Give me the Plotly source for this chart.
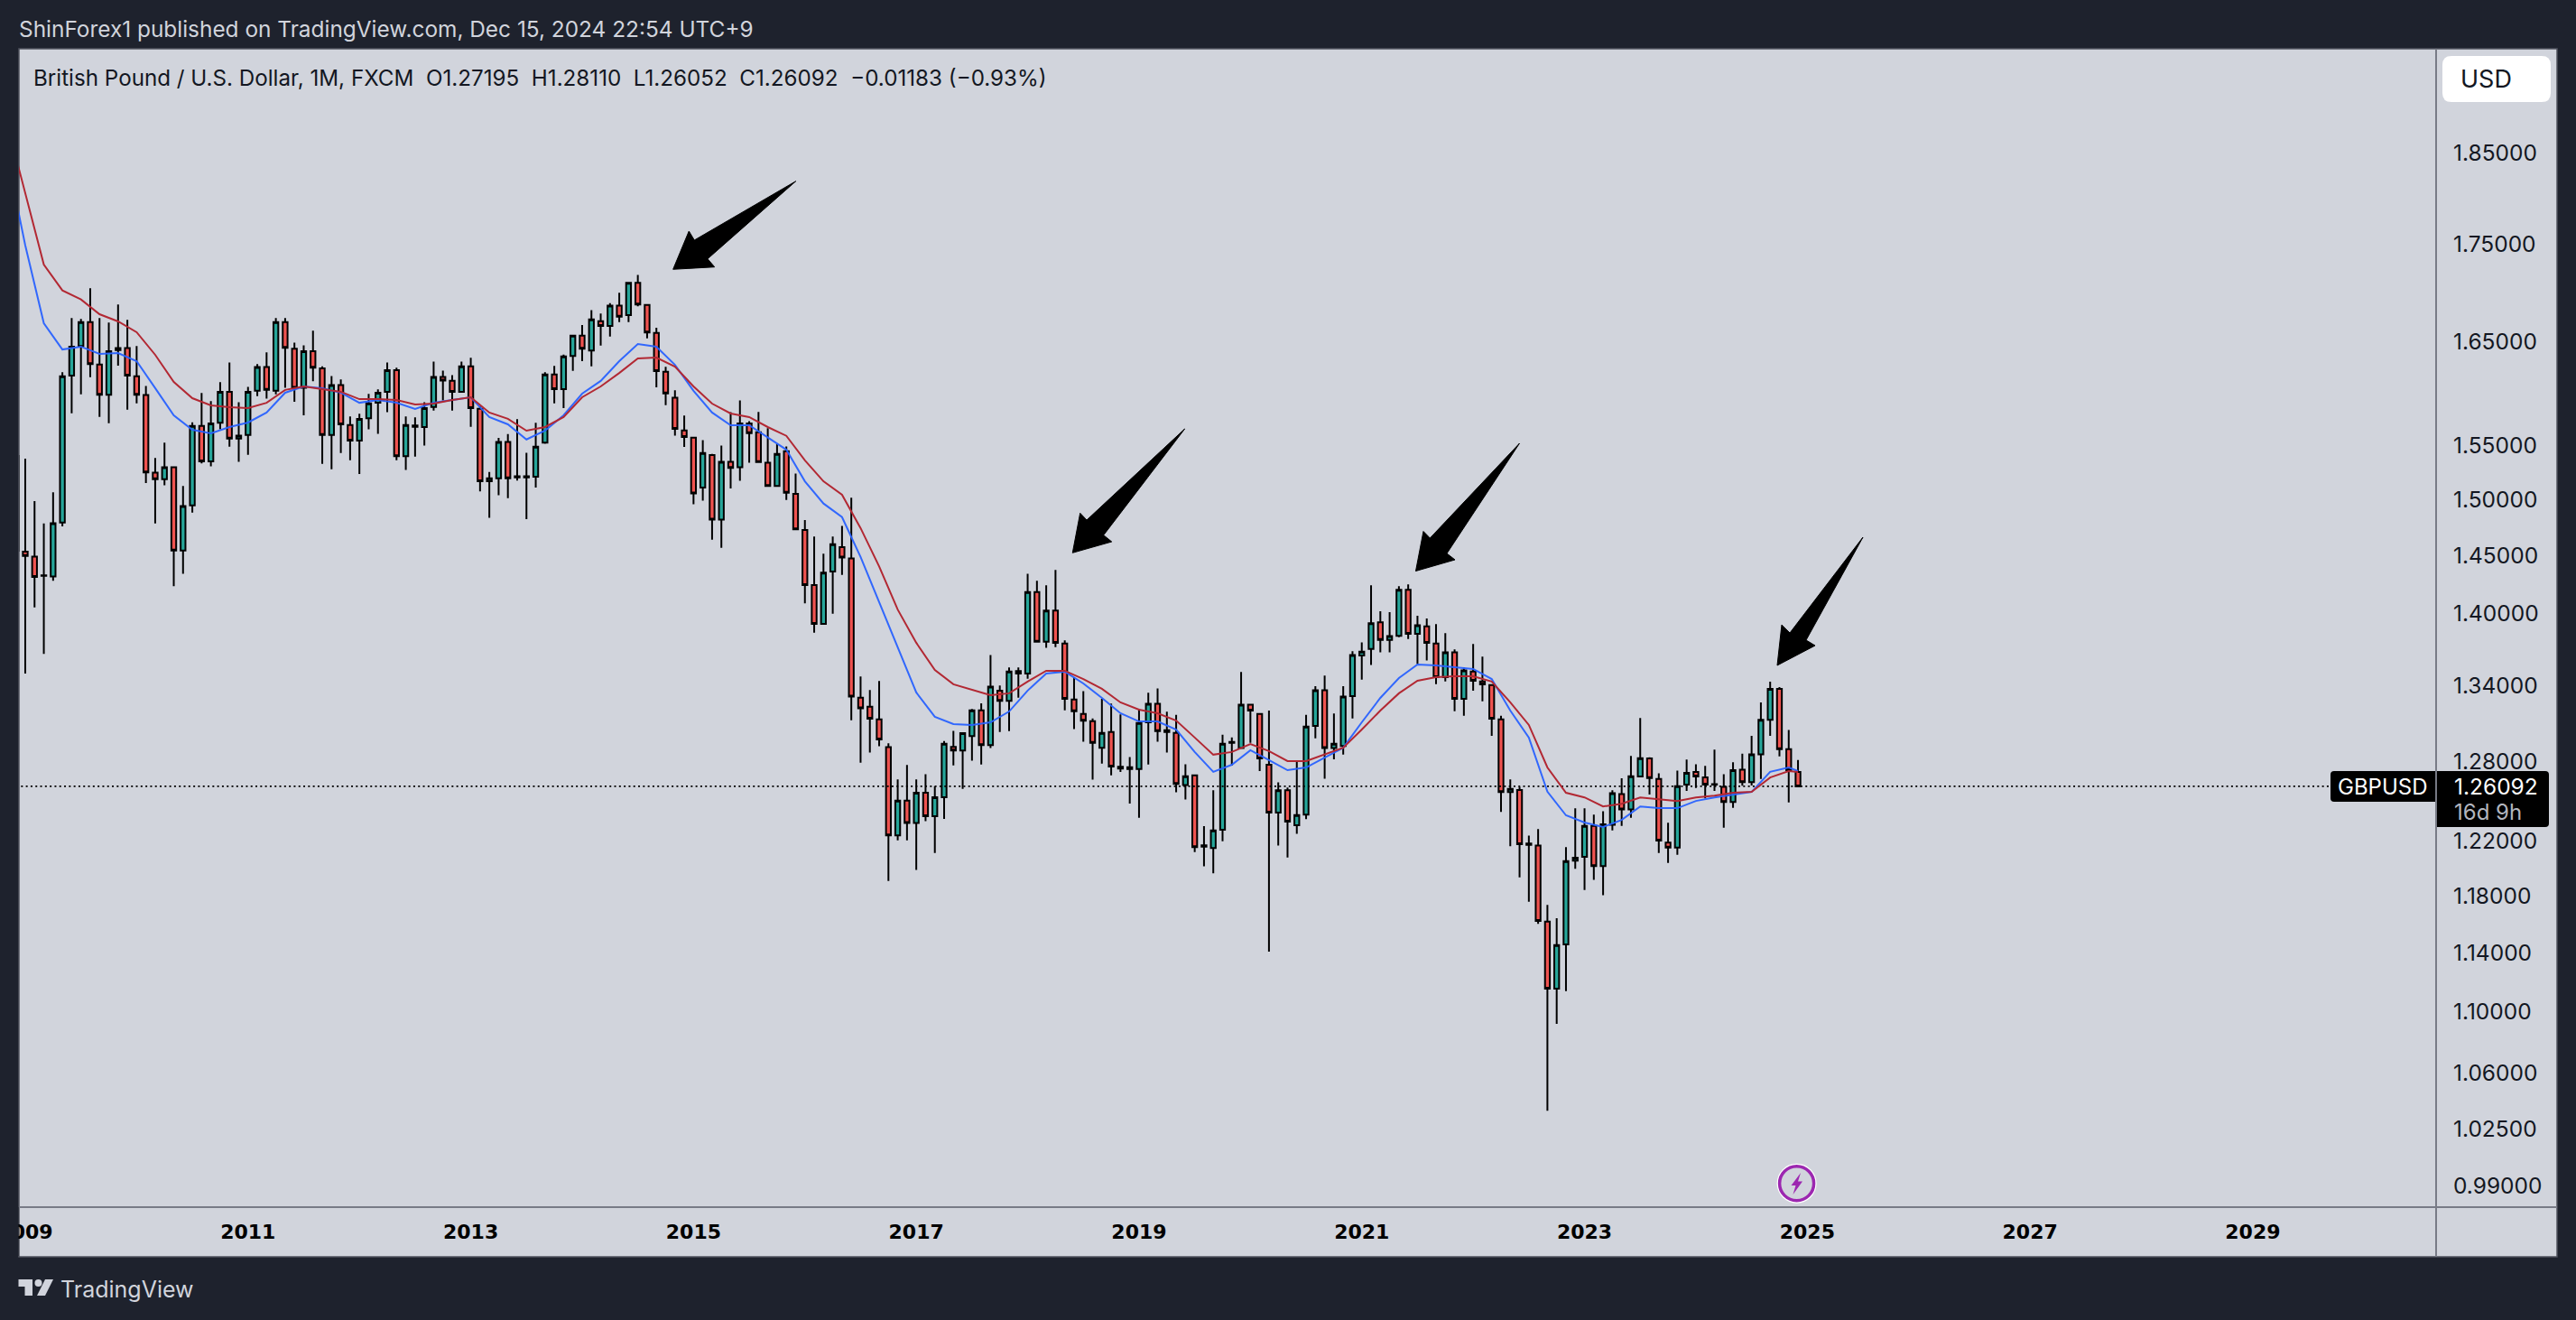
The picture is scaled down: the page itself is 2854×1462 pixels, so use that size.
import plotly.graph_objects as go

# ---------- data (GBP/USD monthly, first bar index -1 = Dec 2008) ----------
first_bar = -1
opens = [1.5398,1.4533,1.4488,1.4321,1.4316,1.4790,1.6165,1.6457,1.6698,1.6274,1.5979,1.6417,1.6436,1.6158,1.5976,1.5243,1.5183,1.5293,1.4542,1.4945,
1.5681,1.5349,1.5710,1.6008,1.5561,1.5595,1.6019,1.6249,1.6019,1.6698,1.6431,1.6046,1.6406,1.6236,1.5595,1.6074,1.5690,1.5542,1.5754,1.5902,
1.6008,1.6218,1.5396,1.5673,1.5671,1.5862,1.6153,1.6114,1.6008,1.6257,1.5845,1.5164,1.5191,1.5530,1.5200,1.5200,1.5207,1.5524,1.6177,1.6034,
1.6358,1.6561,1.6412,1.6707,1.6659,1.6864,1.6768,1.7098,1.6872,1.6588,1.6204,1.5950,1.5638,1.5570,1.5107,1.5406,1.4817,1.5344,1.5293,1.5704,
1.5620,1.5335,1.5121,1.5443,1.5049,1.4725,1.4241,1.3911,1.4359,1.4573,1.4473,1.3304,1.3232,1.3131,1.2911,1.2241,1.2501,1.2332,1.2560,1.2383,
1.2526,1.2914,1.2886,1.2999,1.3202,1.2928,1.3361,1.3279,1.3500,1.3500,1.4182,1.3761,1.4023,1.3747,1.3289,1.3174,1.3116,1.2907,1.3030,1.2745,
1.2742,1.2742,1.3107,1.3254,1.3030,1.3023,1.2619,1.2693,1.2158,1.2147,1.2283,1.2945,1.2904,1.3247,1.3174,1.2775,1.2410,1.2580,1.2316,1.2395,
1.3078,1.3364,1.2904,1.2921,1.3316,1.3647,1.3701,1.3924,1.3776,1.3811,1.4201,1.3828,1.3891,1.3747,1.3470,1.3673,1.3294,1.3517,1.3435,1.3406,
1.3131,1.2565,1.2582,1.2170,1.2165,1.1619,1.1157,1.1459,1.2054,1.2083,1.2311,1.2016,1.2320,1.2550,1.2435,1.2685,1.2824,1.2665,1.2188,1.2150,
1.2622,1.2720,1.2678,1.2622,1.2605,1.2490,1.2737,1.2641,1.2856,1.3127,1.3375,1.2896,1.27195]
closes = [1.4540,1.4494,1.4311,1.4325,1.4785,1.6158,1.6451,1.6698,1.6278,1.5979,1.6406,1.6437,1.6165,1.5979,1.5246,1.5183,1.5293,1.4542,1.4939,1.5681,
1.5349,1.5704,1.6008,1.5561,1.5589,1.6008,1.6249,1.6026,1.6698,1.6440,1.6046,1.6406,1.6242,1.5595,1.6074,1.5695,1.5542,1.5748,1.5896,1.5999,
1.6218,1.5396,1.5690,1.5685,1.5851,1.6153,1.6118,1.6008,1.6257,1.5851,1.5164,1.5191,1.5530,1.5191,1.5210,1.5210,1.5486,1.6177,1.6034,1.6354,
1.6561,1.6431,1.6724,1.6659,1.6864,1.6752,1.7098,1.6875,1.6592,1.6209,1.5993,1.5652,1.5577,1.5054,1.5425,1.4817,1.5344,1.5288,1.5704,1.5612,
1.5341,1.5121,1.5417,1.5060,1.4731,1.4241,1.3911,1.4349,1.4598,1.4480,1.3312,1.3219,1.3136,1.2972,1.2241,1.2501,1.2332,1.2560,1.2383,1.2526,
1.2939,1.2886,1.3021,1.3202,1.2928,1.3393,1.3279,1.3517,1.3520,1.4182,1.3761,1.4023,1.3753,1.3294,1.3196,1.3120,1.2945,1.3023,1.2761,1.2760,
1.2756,1.3102,1.3254,1.3037,1.3044,1.2628,1.2686,1.2154,1.2168,1.2278,1.2939,1.2953,1.3247,1.3201,1.2824,1.2410,1.2580,1.2343,1.2392,1.3073,
1.3364,1.2904,1.2939,1.3312,1.3651,1.3680,1.3916,1.3776,1.3808,1.4201,1.3828,1.3899,1.3753,1.3470,1.3673,1.3294,1.3525,1.3441,1.3412,1.3136,
1.2565,1.2590,1.2176,1.2180,1.1624,1.1157,1.1455,1.2052,1.2076,1.2311,1.2016,1.2322,1.2557,1.2435,1.2686,1.2826,1.2673,1.2203,1.2150,1.2610,
1.2712,1.2685,1.2622,1.2626,1.2490,1.2734,1.2641,1.2856,1.3127,1.3375,1.2896,1.2733,1.26092]
highs = [1.5700,1.5374,1.4983,1.4782,1.5064,1.6198,1.6738,1.6729,1.7043,1.6738,1.6692,1.6875,1.6720,1.6457,1.6064,1.5379,1.5524,1.5300,1.5121,1.5716,
1.5996,1.5917,1.6102,1.6295,1.5908,1.6055,1.6278,1.6394,1.6738,1.6738,1.6492,1.6465,1.6611,1.6257,1.6161,1.6127,1.5771,1.5797,1.5988,1.6032,
1.6295,1.6242,1.5771,1.5763,1.5908,1.6304,1.6215,1.6170,1.6304,1.6340,1.5868,1.5251,1.5567,1.5603,1.5745,1.5429,1.5710,1.6198,1.6260,1.6373,
1.6570,1.6667,1.6818,1.6783,1.6890,1.6996,1.7108,1.7181,1.6881,1.6640,1.6251,1.6023,1.5780,1.5575,1.5547,1.5417,1.5496,1.5811,1.5925,1.5725,
1.5814,1.5660,1.5510,1.5488,1.5236,1.4812,1.4665,1.4514,1.4665,1.4761,1.5015,1.3475,1.3366,1.3438,1.2941,1.2663,1.2773,1.2663,1.2702,1.2610,
1.2960,1.3040,1.3023,1.3214,1.3258,1.3652,1.3403,1.3550,1.3550,1.4340,1.4278,1.4239,1.4372,1.3773,1.3470,1.3356,1.3138,1.3294,1.3256,1.3170,
1.2835,1.3212,1.3343,1.3378,1.3192,1.3167,1.2779,1.2700,1.2310,1.2580,1.3010,1.2988,1.3512,1.3250,1.3180,1.3200,1.2640,1.2600,1.2804,1.3167,
1.3396,1.3483,1.3178,1.3396,1.3683,1.3756,1.4239,1.4018,1.4010,1.4231,1.4247,1.3979,1.3956,1.3909,1.3833,1.3698,1.3550,1.3744,1.3639,1.3412,
1.3160,1.2662,1.2605,1.2239,1.2287,1.1736,1.1642,1.2154,1.2442,1.2442,1.2395,1.2421,1.2580,1.2670,1.2843,1.3141,1.2832,1.2709,1.2334,1.2730,
1.2816,1.2779,1.2766,1.2892,1.2702,1.2794,1.2860,1.3000,1.3266,1.3434,1.3390,1.3047,1.28110]
lows = [1.4000,1.3500,1.4051,1.3661,1.4278,1.4756,1.5802,1.5984,1.6150,1.5767,1.5707,1.6263,1.5836,1.5896,1.5148,1.4782,1.5127,1.4231,1.4339,1.4879,
1.5329,1.5302,1.5648,1.5486,1.5344,1.5409,1.5966,1.5941,1.5984,1.6046,1.5911,1.5782,1.6110,1.5326,1.5276,1.5426,1.5359,1.5232,1.5648,1.5606,
1.5811,1.5359,1.5268,1.5393,1.5495,1.5828,1.5925,1.5828,1.5999,1.5672,1.5071,1.4833,1.5036,1.5011,1.5172,1.4820,1.5107,1.5512,1.5896,1.5851,
1.6212,1.6307,1.6257,1.6462,1.6552,1.6698,1.6698,1.6857,1.6534,1.6052,1.5879,1.5589,1.5483,1.4956,1.4987,1.4638,1.4567,1.5099,1.5169,1.5335,
1.5338,1.5118,1.5113,1.4993,1.4731,1.4086,1.3838,1.3911,1.3996,1.4330,1.3123,1.2790,1.2869,1.2918,1.1907,1.2204,1.2204,1.1987,1.2347,1.2111,
1.2364,1.2769,1.2590,1.2807,1.2776,1.2904,1.3030,1.3037,1.3304,1.3458,1.3756,1.3711,1.3717,1.3202,1.3053,1.2955,1.2660,1.2783,1.2693,1.2720,
1.2478,1.2371,1.2776,1.2955,1.2869,1.2564,1.2509,1.2118,1.2013,1.1963,1.2198,1.2768,1.2897,1.2945,1.2726,1.1409,1.2165,1.2078,1.2252,1.2361,
1.2981,1.2667,1.2817,1.2853,1.3138,1.3450,1.3569,1.3673,1.3673,1.3800,1.3785,1.3577,1.3607,1.3413,1.3435,1.3195,1.3160,1.3361,1.3275,1.3001,
1.2415,1.2161,1.1934,1.1759,1.1602,1.0363,1.0921,1.1140,1.1995,1.1842,1.1915,1.1805,1.2278,1.2311,1.2371,1.2678,1.2546,1.2111,1.2039,1.2098,
1.2574,1.2596,1.2518,1.2574,1.2298,1.2446,1.2613,1.2615,1.2665,1.3000,1.2840,1.2487,1.26052]

ema_bars = [-2]+list(range(0,191,2))+[191]
ema_fast = [1.8480,1.7490,1.6686,1.6423,1.6451,1.6379,1.6388,1.6307,1.6043,1.5782,1.5644,1.5610,1.5670,1.5713,1.5808,1.5999,1.6060,1.6043,1.5999,1.5902,
1.5928,1.5902,1.5843,1.5902,1.5928,1.5955,1.5765,1.5696,1.5553,1.5636,1.5782,1.5990,1.6113,1.6307,1.6477,1.6451,1.6271,1.6017,1.5808,1.5687,
1.5687,1.5570,1.5457,1.5164,1.4962,1.4839,1.4486,1.4095,1.3717,1.3346,1.3151,1.3093,1.3086,1.3107,1.3193,1.3361,1.3500,1.3515,1.3419,1.3302,
1.3179,1.3114,1.3114,1.3050,1.2874,1.2720,1.2775,1.2888,1.2810,1.2733,1.2754,1.2831,1.2907,1.3107,1.3302,1.3463,1.3574,1.3566,1.3551,1.3537,
1.3455,1.3200,1.2987,1.2569,1.2390,1.2336,1.2303,1.2356,1.2457,1.2444,1.2444,1.2498,1.2525,1.2546,1.2567,1.2720,1.2754,1.2726]
ema_slow = [1.8847,1.8051,1.7289,1.7020,1.6928,1.6777,1.6704,1.6595,1.6370,1.6104,1.5946,1.5877,1.5860,1.5851,1.5902,1.6026,1.6060,1.6034,1.6008,1.5937,
1.5937,1.5928,1.5885,1.5894,1.5928,1.5955,1.5808,1.5748,1.5636,1.5670,1.5765,1.5955,1.6060,1.6191,1.6334,1.6343,1.6254,1.6060,1.5894,1.5799,
1.5765,1.5670,1.5587,1.5358,1.5164,1.5041,1.4741,1.4403,1.4032,1.3753,1.3529,1.3412,1.3368,1.3324,1.3339,1.3434,1.3522,1.3522,1.3455,1.3375,
1.3266,1.3208,1.3179,1.3121,1.2987,1.2853,1.2874,1.2936,1.2881,1.2803,1.2803,1.2853,1.2907,1.3050,1.3200,1.3339,1.3441,1.3470,1.3477,1.3477,
1.3434,1.3266,1.3086,1.2754,1.2560,1.2525,1.2457,1.2477,1.2525,1.2511,1.2498,1.2525,1.2539,1.2560,1.2567,1.2677,1.2726,1.2720]

last_price = 1.26092
price_ticks = [1.85,1.75,1.65,1.55,1.50,1.45,1.40,1.34,1.28,1.22,1.18,1.14,1.10,1.06,1.025,0.99]
price_labels = ["1.85000","1.75000","1.65000","1.55000","1.50000","1.45000","1.40000","1.34000","1.28000","1.22000","1.18000","1.14000","1.10000","1.06000","1.02500","0.99000"]
year_bars = [0,24,48,72,96,120,144,168,192,216,240]
year_labels = ["2009","2011","2013","2015","2017","2019","2021","2023","2025","2027","2029"]

# ---------- colours / frame ----------
W, H = 2854, 1462
L, R, T, B = 21, 2699, 54, 1337   # pane in pixels
DARK, PANE, GREEN, CORAL = "#1e222d", "#d1d4dc", "#26a69a", "#ef5350"
FONT = "Inter"

def X(p): return (p - L) / (R - L)
def Y(p): return (B - p) / (B - T)
def poly(pts): return "M " + " L ".join(f"{X(a):.5f},{Y(b):.5f}" for a, b in pts) + " Z"
def rrect(x0, y0, x1, y1, rl, rr):
    c = lambda a, b: f"{X(a):.5f},{Y(b):.5f}"
    return (f"M {c(x0+rl,y0)} L {c(x1-rr,y0)} Q {c(x1,y0)} {c(x1,y0+rr)} L {c(x1,y1-rr)} Q {c(x1,y1)} {c(x1-rr,y1)} "
            f"L {c(x0+rl,y1)} Q {c(x0,y1)} {c(x0,y1-rl)} L {c(x0,y0+rl)} Q {c(x0,y0)} {c(x0+rl,y0)} Z")

bars = list(range(first_bar, first_bar + len(opens)))

fig = go.Figure()
fig.add_trace(go.Scatter(x=[-2, 249.5], y=[last_price, last_price], mode="lines", hoverinfo="skip",
                         line=dict(color="#000000", width=1.7, dash="2px,3.3px"), showlegend=False))
fig.add_trace(go.Candlestick(x=bars, open=opens, high=highs, low=lows, close=closes, whiskerwidth=0,
                             increasing=dict(line=dict(color="#000000", width=2), fillcolor=GREEN),
                             decreasing=dict(line=dict(color="#000000", width=2), fillcolor=CORAL),
                             showlegend=False))
fig.add_trace(go.Scatter(x=ema_bars, y=ema_fast, mode="lines", line=dict(color="#2962ff", width=2), opacity=0.95, showlegend=False))
fig.add_trace(go.Scatter(x=ema_bars, y=ema_slow, mode="lines", line=dict(color="#b22833", width=2), showlegend=False))

shapes = [
    dict(type="rect", xref="paper", yref="paper", x0=X(L), x1=X(2833), y0=Y(1392), y1=Y(T), layer="below",
         fillcolor=PANE, line=dict(color="#50535e", width=1.5)),
    dict(type="line", xref="paper", yref="paper", x0=X(L), x1=X(2833), y0=Y(B), y1=Y(B), layer="above", line=dict(color="#787b86", width=2)),
    dict(type="line", xref="paper", yref="paper", x0=X(R), x1=X(R), y0=Y(T), y1=Y(1392), layer="above", line=dict(color="#787b86", width=2)),
    dict(type="rect", xref="paper", yref="paper", x0=X(0), x1=X(L - .5), y0=Y(1391), y1=Y(B), layer="above", fillcolor=DARK, line=dict(width=0)),
    # USD button and price tags
    dict(type="path", xref="paper", yref="paper", path=rrect(2706, 62, 2826, 113, 10, 10), layer="above", fillcolor="#ffffff", line=dict(width=0)),
    dict(type="path", xref="paper", yref="paper", path=rrect(2582, 854, 2698, 888, 4, 0.1), layer="above", fillcolor="#000000", line=dict(width=0)),
    dict(type="path", xref="paper", yref="paper", path=rrect(2700, 854, 2824, 916, 0.1, 4), layer="above", fillcolor="#000000", line=dict(width=0)),
    # hand-drawn arrows
    dict(type="path", xref="paper", yref="paper", layer="above", fillcolor="#000000", line=dict(color="#000000", width=1),
         path=poly([(745.7,298.3),(763.3,256),(769.3,266),(881.7,200.7),(784,286.7),(791.7,295.7)])),
    dict(type="path", xref="paper", yref="paper", layer="above", fillcolor="#000000", line=dict(color="#000000", width=1),
         path=poly([(1188.3,612.3),(1196.7,568.3),(1204,576),(1312.6,475),(1222.7,592.7),(1231.7,600)])),
    dict(type="path", xref="paper", yref="paper", layer="above", fillcolor="#000000", line=dict(color="#000000", width=1),
         path=poly([(1568.5,632.5),(1577,588.5),(1584.3,596),(1683.5,491),(1603,613),(1612,620)])),
    dict(type="path", xref="paper", yref="paper", layer="above", fillcolor="#000000", line=dict(color="#000000", width=1),
         path=poly([(1969,737),(1974,692),(1983,701),(2064,595),(2001,709),(2011,715)])),
    # bolt icon
    dict(type="circle", xref="paper", yref="paper", x0=X(1968.6), x1=X(2012.6), y0=Y(1332.7), y1=Y(1288.7), layer="above", fillcolor="#ffffff", line=dict(width=0)),
    dict(type="circle", xref="paper", yref="paper", x0=X(1971.6), x1=X(2009.6), y0=Y(1329.7), y1=Y(1291.7), layer="above", fillcolor=PANE, line=dict(color="#9c27b0", width=3.5)),
    dict(type="path", xref="paper", yref="paper", layer="above", fillcolor="#9c27b0", line=dict(width=0),
         path=poly([(1995,1299),(1984.5,1313),(1989.5,1313),(1986.5,1323),(1997,1308.5),(1992,1308.5)])),
    # TradingView logo
    dict(type="path", xref="paper", yref="paper", layer="above", fillcolor="#d1d4dc", line=dict(width=0),
         path=poly([(20.5,1417),(36,1417),(36,1435),(27.5,1435),(27.5,1425),(20.5,1425)])),
    dict(type="circle", xref="paper", yref="paper", x0=X(38.5), x1=X(46.5), y0=Y(1425), y1=Y(1417), layer="above", fillcolor="#d1d4dc", line=dict(width=0)),
    dict(type="path", xref="paper", yref="paper", layer="above", fillcolor="#d1d4dc", line=dict(width=0),
         path=poly([(50,1417),(59,1417),(50,1435),(41,1435)])),
]

def note(text, x, y, size, color, anchor="left", weight=None):
    return dict(text=text, xref="paper", yref="paper", x=X(x), y=Y(y), xanchor=anchor, yanchor="middle", showarrow=False,
                borderpad=0, font=dict(family=FONT, size=size, color=color, weight=weight))

annotations = [
    note("ShinForex1 published on TradingView.com, Dec 15, 2024 22:54 UTC+9", 20, 32, 24.4, "#d1d4dc"),
    note("British Pound / U.S. Dollar, 1M, FXCM  O1.27195  H1.28110  L1.26052  C1.26092  −0.01183 (−0.93%)", 36, 86, 24.2, "#131722"),
    note("USD", 2725, 87, 27, "#131722"),
    note("GBPUSD", 2640, 871, 24, "#ffffff", anchor="center"),
    note("1.26092", 2718, 871, 24.5, "#ffffff"),
    note("16d 9h", 2718, 899, 24, "#b2b5be"),
    note("TradingView", 66, 1428, 25, "#d1d4dc"),
]

fig.update_layout(
    width=W, height=H, autosize=False, paper_bgcolor=DARK, plot_bgcolor=PANE,
    margin=dict(l=L, r=W - R, t=T, b=H - B, pad=0, autoexpand=False), boxgap=0.26, hovermode=False, showlegend=False,
    shapes=shapes, annotations=annotations, font=dict(family=FONT),
    xaxis=dict(range=[-0.68, 259.75], automargin=False, tickmode="array", tickvals=year_bars, ticktext=year_labels, showgrid=False, zeroline=False,
               showline=False, ticks="", ticklabelstandoff=12, ticklabeloverflow="allow", rangeslider=dict(visible=False), tickangle=0,
               tickfont=dict(family="DejaVu Sans", size=22, color="#000000", weight=700)),
    yaxis=dict(type="log", side="right", automargin=False, range=[-0.00986, 0.29445], tickmode="array", tickvals=price_ticks, ticktext=price_labels,
               showgrid=False, zeroline=False, showline=False, ticks="", ticklabelstandoff=18, ticklabeloverflow="allow",
               tickfont=dict(family=FONT, size=24.5, color="#131722")),
)
fig.write_html("out.html", config=dict(displayModeBar=False),
               post_script="document.body.style.margin='0';document.body.style.overflow='hidden';")
